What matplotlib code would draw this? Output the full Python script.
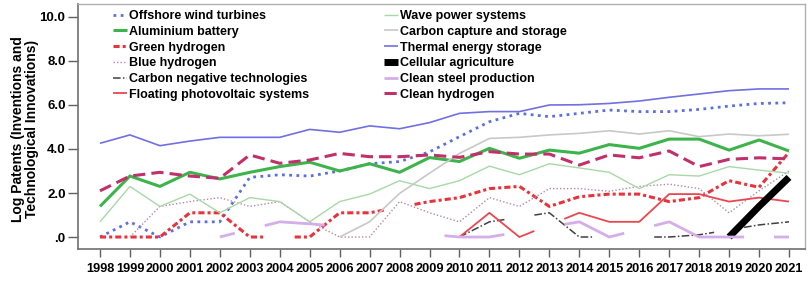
import numpy as np
import matplotlib
matplotlib.use("Agg")
import matplotlib.pyplot as plt

nan = np.nan
years = list(range(1998, 2022))

offshore_wind = [0, 0.69, 0, 0.69, 0.69, 2.71, 2.83, 2.77, 3.0, 3.33, 3.43, 3.87,
                 4.56, 5.24, 5.62, 5.47, 5.62, 5.77, 5.7, 5.7, 5.8, 5.95, 6.07, 6.1]
aluminium_battery = [1.39, 2.77, 2.3, 2.94, 2.64, 2.94, 3.2, 3.4, 3.0, 3.33, 2.94, 3.61,
                     3.43, 4.03, 3.58, 3.95, 3.81, 4.2, 4.03, 4.45, 4.45, 3.95, 4.41, 3.91]
green_hydrogen = [0, 0, 0, 1.1, 1.1, 0, nan, 0, 1.1, 1.1, nan, 1.61,
                  1.79, 2.2, 2.3, 1.39, 1.83, 1.95, 1.95, 1.61, 1.79, 2.56, 2.26, 3.85]
blue_hydrogen = [nan, 0, 1.39, 1.61, 1.79, 1.39, 1.61, 0.69, 0, 0, 1.61, 1.1,
                 0.69, 1.79, 1.39, 2.2, 2.2, 2.08, 2.3, 2.4, 2.2, 1.1, 2.1, 3.0]
carbon_negative = [nan, nan, nan, nan, nan, nan, nan, nan, nan, nan, nan, nan,
                   0, 0.69, nan, 1.1, 0, nan, nan, 0, 0.1, nan, 0.55, 0.69]
floating_pv = [nan, nan, nan, nan, nan, nan, nan, nan, nan, nan, nan, nan,
               0, 1.1, 0, nan, 1.1, 0.69, 0.69, 1.95, 1.95, 1.61, 1.79, 1.61]
wave_power = [0.69, 2.3, 1.39, 1.95, 1.1, 1.79, 1.61, 0.69, 1.61, 1.95, 2.56, 2.2,
              2.56, 3.22, 2.83, 3.33, 3.14, 2.94, 2.2, 2.83, 2.77, 3.2, 3.04, 2.9]
carbon_capture = [nan, nan, nan, nan, nan, nan, nan, nan, 0, 0.69, 1.98, 2.9,
                  3.8, 4.48, 4.53, 4.64, 4.71, 4.83, 4.68, 4.83, 4.56, 4.68, 4.6, 4.67]
thermal_storage = [4.26, 4.64, 4.15, 4.36, 4.53, 4.53, 4.53, 4.89, 4.76, 5.05, 4.92, 5.2,
                   5.62, 5.7, 5.7, 6.0, 6.01, 6.07, 6.18, 6.35, 6.5, 6.65, 6.73, 6.73]
cellular_agriculture = [nan] * 21 + [0, 1.39, 2.71]
clean_steel = [nan, nan, nan, nan, 0, nan, 0.69, 0.6, nan, nan, nan, nan,
               0, 0, nan, nan, 0.69, 0, nan, 0.69, 0, 0, nan, 0]
clean_hydrogen = [2.1, 2.77, 2.94, 2.77, 2.67, 3.73, 3.35, 3.5, 3.8, 3.65, 3.65, 3.73,
                  3.62, 3.88, 3.77, 3.77, 3.27, 3.73, 3.6, 3.91, 3.2, 3.53, 3.6, 3.55]

ytick_vals = [0, 2, 4, 6, 8, 10]
ytick_labels = [".0", "2.0", "4.0", "6.0", "8.0", "10.0"]

# label, values, color, linewidth, linestyle
series_left = [
    ("Offshore wind turbines", offshore_wind, "#5b6fe0", 2.0, (0, (1, 1.6))),
    ("Aluminium battery", aluminium_battery, "#3cb44b", 2.2, "-"),
    ("Green hydrogen", green_hydrogen, "#e8323c", 2.2, (0, (2, 1, 1, 1))),
    ("Blue hydrogen", blue_hydrogen, "#b08aa8", 1.0, (0, (1, 1.5))),
    ("Carbon negative technologies", carbon_negative, "#404040", 1.1, (0, (5, 1.5, 1, 1.5))),
    ("Floating photovoltaic systems", floating_pv, "#e84850", 1.3, "-"),
]
series_right = [
    ("Wave power systems", wave_power, "#a8d8a8", 1.0, "-"),
    ("Carbon capture and storage", carbon_capture, "#c8c8c8", 1.2, "-"),
    ("Thermal energy storage", thermal_storage, "#7070e0", 1.2, "-"),
    ("Cellular agriculture", cellular_agriculture, "#000000", 5.0, "-"),
    ("Clean steel production", clean_steel, "#d4aee8", 2.0, "-"),
    ("Clean hydrogen", clean_hydrogen, "#c0306a", 2.2, (0, (4, 2))),
]


def half_step(x, v):
    # missing years are interpolated, but the line is only drawn halfway
    # from each existing point (how the original software breaks lines)
    x = np.asarray(x, float)
    v = np.asarray(v, float)
    ok = ~np.isnan(v)
    full = np.full_like(v, np.nan)
    idx = np.where(ok)[0]
    lo, hi = idx.min(), idx.max()
    full[lo:hi + 1] = np.interp(x[lo:hi + 1], x[ok], v[ok])
    xs, ys = [], []
    for i in range(len(x)):
        xs.append(x[i])
        ys.append(v[i])
        if i < len(x) - 1:
            xs.append((x[i] + x[i + 1]) / 2)
            if (ok[i] or ok[i + 1]) and not np.isnan(full[i]) and not np.isnan(full[i + 1]):
                ys.append((full[i] + full[i + 1]) / 2)
            else:
                ys.append(np.nan)
    return xs, ys


plt.rcParams['font.family'] = ['Liberation Sans', 'DejaVu Sans']
plt.rcParams['font.weight'] = 'bold'

fig = plt.figure(figsize=(8.11, 2.94), dpi=100)
W, H = 811, 294
ax = fig.add_axes([78 / W, (H - 249) / H, (805 - 78) / W, (249 - 4) / H])

handles_left, handles_right = [], []
for group, store in ((series_left, handles_left), (series_right, handles_right)):
    for label, vals, color, lw, ls in group:
        xs, ys = half_step(years, vals)
        line, = ax.plot(xs, ys, color=color, lw=lw, ls=ls, label=label,
                        solid_capstyle='butt', dash_capstyle='butt')
        store.append(line)

ax.set_xlim(1997.266, 2021.534)
ax.set_ylim(-0.545, 10.59)
ax.set_xticks(years)
ax.set_xticklabels([str(y) for y in years], fontsize=9.2, fontweight='bold')
ax.set_yticks(ytick_vals)
ax.set_yticklabels(ytick_labels, fontsize=9.5, fontweight='bold')
ax.tick_params(axis='x', length=6, width=1, color='#606060', pad=4)
ax.tick_params(axis='y', length=7, width=1, color='#606060', pad=2)

for side in ('left', 'bottom'):
    ax.spines[side].set_color('#707070')
    ax.spines[side].set_linewidth(1.2)
for side in ('top', 'right'):
    ax.spines[side].set_color('#b0b0b0')
    ax.spines[side].set_linewidth(1.0)

ax.set_ylabel("Log Patents (Inventions and\nTechnological Innovations)",
              fontsize=10, fontweight='bold', linespacing=1.0)
ax.yaxis.set_label_coords((39 - 78) / 727, 0.49)

leg_kw = dict(loc='upper left', frameon=False, handlelength=1.15,
              handletextpad=0.15, labelspacing=0.3, borderpad=0, borderaxespad=0,
              prop={'weight': 'bold', 'size': 9})
leg1 = ax.legend(handles=handles_left, bbox_to_anchor=(113 / W, (H - 10) / H),
                 bbox_transform=fig.transFigure, **leg_kw)
ax.add_artist(leg1)
ax.legend(handles=handles_right, bbox_to_anchor=(384 / W, (H - 10) / H),
          bbox_transform=fig.transFigure, **leg_kw)

fig.savefig("out.png", dpi=100)
